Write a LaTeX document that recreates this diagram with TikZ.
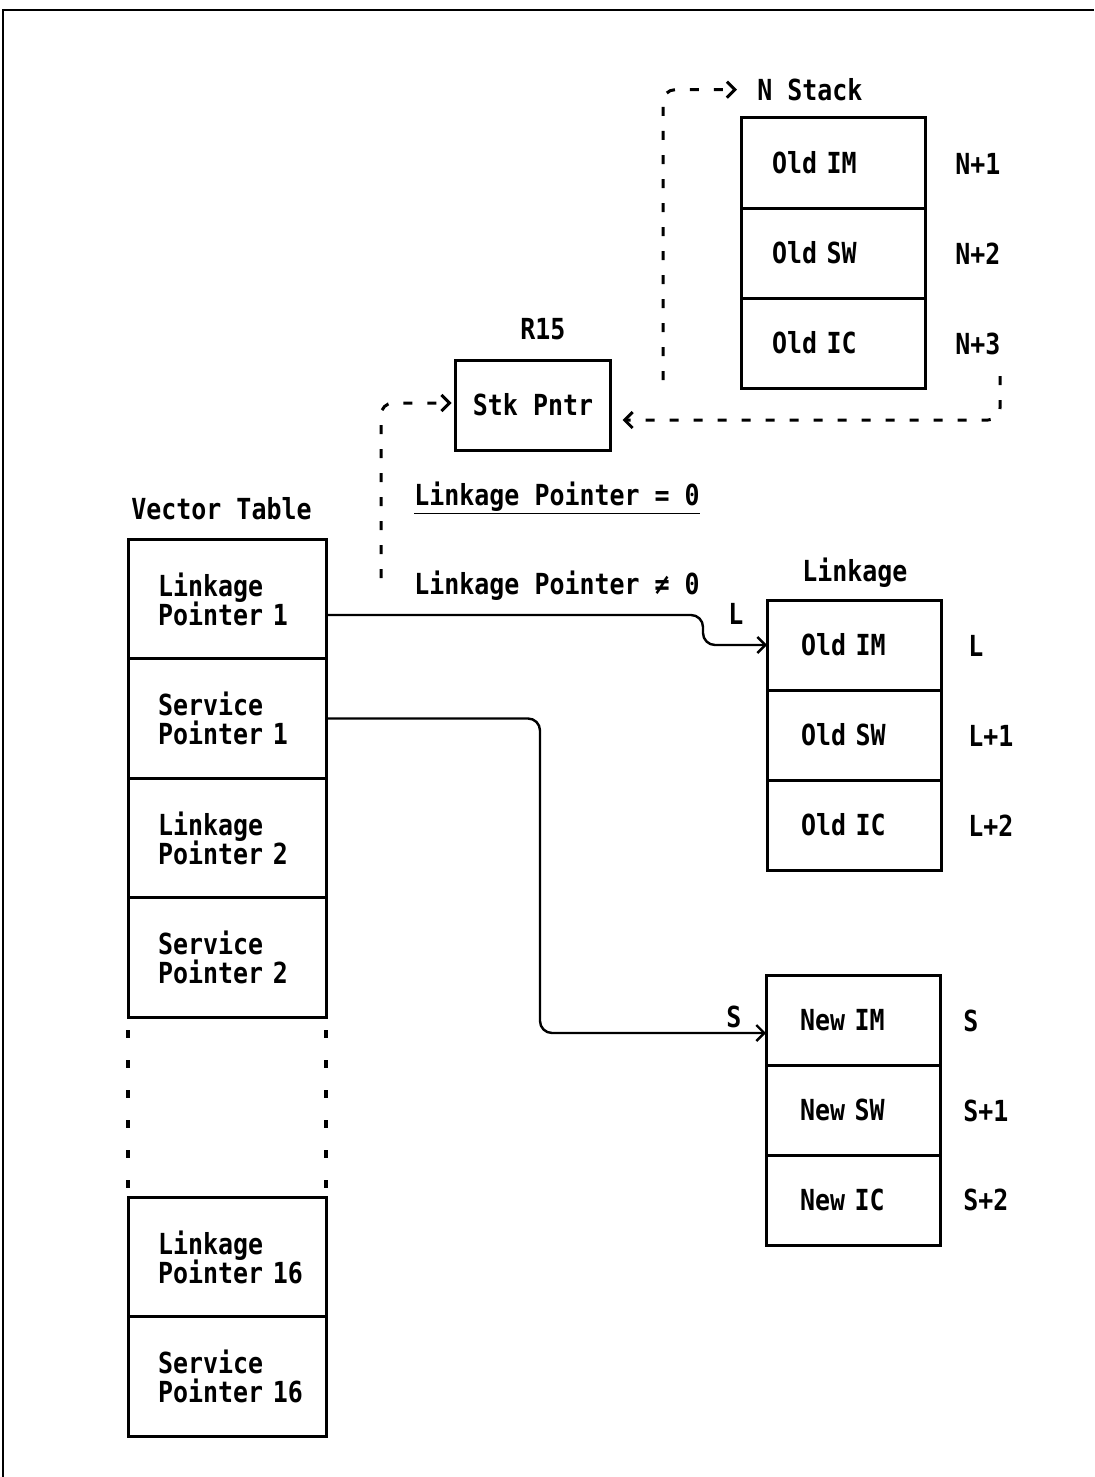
\documentclass[tikz,border=0pt]{standalone}
\usepackage{fontspec}
\setmainfont[FakeStretch=0.86]{DejaVu Sans Mono}
\usetikzlibrary{arrows.meta, positioning, calc}
\hfuzz=10pt
\setlength\normallineskiplimit{-6pt}

\begin{document}
\begin{tikzpicture}[
  x=0.5pt, y=-0.5pt,
  every node/.style={font=\bfseries\fontsize{14.5pt}{14.5pt}\selectfont},
  cell/.style={draw, line width=1.5pt, minimum height=45pt, outer sep=0pt, align=left},
  stackcell/.style={cell, minimum width=92pt, text width=61pt, inner xsep=15.5pt},
  framecell/.style={cell, minimum width=87pt, text width=53pt, inner xsep=17pt},
  vcell/.style={cell, minimum width=99pt, minimum height=59.75pt, text width=69pt, inner xsep=15pt},
  tag/.style={inner sep=0pt, anchor=base west},
  link/.style={line width=1.2pt, rounded corners=6pt, -{Straight Barb[length=4pt, width=8pt]}},
  dashlink/.style={link, line width=1.5pt, dash pattern=on 4.5pt off 7.5pt},
  vgap/.style={line width=1.6pt, dash pattern=on 4pt off 11pt, dash phase=8.5pt}
]
  \useasboundingbox (0,0) rectangle (1094,1477);
  \draw[line width=1pt] (3,1477) -- (3,10) -- (1094,10);

  % N stack
  \node[tag] (nstack) at (757,100.5) {N Stack};
  \node[stackcell] (ns1) at (833,163) {Old IM};
  \node[stackcell, below=0pt of ns1] (ns2) {Old SW};
  \node[stackcell, below=0pt of ns2] (ns3) {Old IC};
  \node[tag] (n1) at (955,174) {N+1};
  \node[tag] (n2) at (955,264) {N+2};
  \node[tag] (n3) at (955,354) {N+3};

  % stack pointer
  \node[cell, minimum width=77.5pt] (stk) at (533,405) {Stk Pntr};
  \node[tag] (r15) at (520,339) {R15};

  % conditions
  \node[tag] (lpzero) at (414,505) {\underline{Linkage Pointer = 0}};
  \node[tag] (lpnot) at (414,594) {Linkage Pointer ≠ 0};

  % vector table
  \node[tag] (vtitle) at (131,519) {Vector Table};
  \node[vcell] (vl1) at (227,599) {Linkage\\Pointer~1};
  \node[vcell, below=0pt of vl1] (vs1) {Service\\Pointer~1};
  \node[vcell, below=0pt of vs1] (vl2) {Linkage\\Pointer~2};
  \node[vcell, below=0pt of vl2] (vs2) {Service\\Pointer~2};
  \node[vcell] (vl16) at (227,1257) {Linkage\\Pointer~16};
  \node[vcell, below=0pt of vl16] (vs16) {Service\\Pointer~16};
  \draw[vgap] (vs2.south west) -- (vl16.north west);
  \draw[vgap] (vs2.south east) -- (vl16.north east);

  % linkage block
  \node[tag] (lktitle) at (802,581) {Linkage};
  \node[framecell] (lk1) at (854,645) {Old IM};
  \node[framecell, below=0pt of lk1] (lk2) {Old SW};
  \node[framecell, below=0pt of lk2] (lk3) {Old IC};
  \node[tag] (l0) at (968,656) {L};
  \node[tag] (l1) at (968,746) {L+1};
  \node[tag] (l2) at (968,836) {L+2};

  % new state block
  \node[framecell] (nw1) at (853,1020) {New IM};
  \node[framecell, below=0pt of nw1] (nw2) {New SW};
  \node[framecell, below=0pt of nw2] (nw3) {New IC};
  \node[tag] (s0) at (963,1031) {S};
  \node[tag] (s1) at (963,1121) {S+1};
  \node[tag] (s2) at (963,1210) {S+2};

  % pointers
  \draw[link] ([yshift=-8pt]vl1.east) -| ([xshift=-32pt]lk1.west) -- (lk1.west);
  \node[tag] (lname) at (728,624) {L};
  \draw[link] (vs1.east) -| ([xshift=-113pt, yshift=-6.5pt]nw1.west) -- ([yshift=-6.5pt]nw1.west);
  \node[tag] (sname) at (726,1027) {S};

  % stack pointer moves
  \coordinate (stkout) at (663,380);
  \coordinate (n3out) at (1000,376);
  \coordinate (vtout) at (381,578);
  \draw[dashlink] (stkout) |- ([xshift=-10pt]nstack.west);
  \draw[dashlink] (n3out) |- ([xshift=6pt, yshift=-7.5pt]stk.east);
  \draw[dashlink] (vtout) |- ([xshift=-2pt, yshift=1pt]stk.west);
\end{tikzpicture}
\end{document}
